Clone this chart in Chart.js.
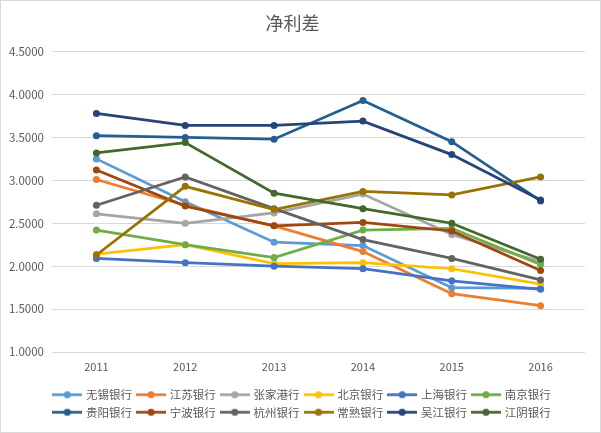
<!DOCTYPE html>
<html>
<head>
<meta charset="utf-8">
<script src="https://cdn.jsdelivr.net/npm/chart.js@4/dist/chart.umd.min.js"></script>
<style>
  html, body { margin: 0; padding: 0; background: #ffffff; }
  #wrap { position: relative; width: 601px; height: 433px; }
  #wrap canvas { position: absolute; left: 0; top: 0; }
  #frame { position: absolute; left: 0; top: 0; width: 599px; height: 431px; border: 1px solid #d9d9d9; pointer-events: none; }
</style>
</head>
<body>
<div id="wrap">
  <canvas id="c" width="601" height="433"></canvas>
  <div id="frame"></div>
</div>
<script>
const years = ['2011', '2012', '2013', '2014', '2015', '2016'];
const yTicks = [1.0, 1.5, 2.0, 2.5, 3.0, 3.5, 4.0, 4.5];

const bankNames = ['无锡银行', '江苏银行', '张家港行', '北京银行', '上海银行', '南京银行',
                   '贵阳银行', '宁波银行', '杭州银行', '常熟银行', '吴江银行', '江阴银行'];

const wuxi      = [3.25, 2.75, 2.28, 2.24, 1.75, 1.74];
const jiangsu   = [3.01, 2.71, 2.47, 2.17, 1.68, 1.54];
const zhangjiagang = [2.61, 2.50, 2.62, 2.84, 2.37, 2.05];
const beijing   = [2.14, 2.25, 2.03, 2.04, 1.97, 1.79];
const shanghai  = [2.09, 2.04, 2.00, 1.97, 1.83, 1.73];
const nanjing   = [2.42, 2.25, 2.10, 2.42, 2.44, 2.02];
const guiyang   = [3.52, 3.50, 3.48, 3.93, 3.45, 2.76];
const ningbo    = [3.12, 2.70, 2.47, 2.51, 2.41, 1.95];
const hangzhou  = [2.71, 3.04, 2.67, 2.31, 2.09, 1.84];
const changshu  = [2.13, 2.93, 2.66, 2.87, 2.83, 3.04];
const wujiang   = [3.78, 3.64, 3.64, 3.69, 3.30, 2.77];
const jiangyin  = [3.32, 3.44, 2.85, 2.67, 2.50, 2.08];

const seriesValues = [wuxi, jiangsu, zhangjiagang, beijing, shanghai, nanjing,
                      guiyang, ningbo, hangzhou, changshu, wujiang, jiangyin];

const colors = ['#5B9BD5', '#ED7D31', '#A5A5A5', '#FFC000', '#4472C4', '#70AD47',
                '#255E91', '#9E480E', '#636363', '#997300', '#264478', '#43682B'];

const FONT = "'Noto Sans CJK SC', 'Noto Sans', sans-serif";
const TEXT = '#595959';

function legendIcon(color) {
  const cv = document.createElement('canvas');
  cv.width = 30; cv.height = 9;
  const g = cv.getContext('2d');
  g.strokeStyle = color; g.lineWidth = 2.75;
  g.beginPath(); g.moveTo(0, 4.5); g.lineTo(30, 4.5); g.stroke();
  g.fillStyle = color;
  g.beginPath(); g.arc(15, 4.5, 3.6, 0, Math.PI * 2); g.fill();
  return cv;
}

const datasets = seriesValues.map((vals, i) => ({
  label: bankNames[i],
  data: vals,
  borderColor: colors[i],
  backgroundColor: colors[i],
  pointBackgroundColor: colors[i],
  pointBorderColor: colors[i],
  borderWidth: 2.75,
  pointRadius: 3.5,
  pointBorderWidth: 0,
  tension: 0,
  fill: false,
  order: -i,
  icon: legendIcon(colors[i])
}));

const legendShift = {
  id: 'legendShift',
  afterLayout(chart) {
    if (chart.legend) { chart.legend.left += 20; }
  }
};

new Chart(document.getElementById('c'), {
  type: 'line',
  data: { labels: years, datasets: datasets },
  plugins: [legendShift],
  options: {
    responsive: false,
    animation: false,
    layout: { padding: { left: 0, right: 16, top: 0, bottom: 5 } },
    plugins: {
      title: {
        display: true,
        text: '净利差',
        color: TEXT,
        font: { family: FONT, size: 18, weight: 'normal' },
        padding: { top: 12, bottom: 18 }
      },
      legend: {
        position: 'bottom',
        labels: {
          usePointStyle: true,
          pointStyleWidth: 26,
          padding: 6,
          color: TEXT,
          font: { family: FONT, size: 11.5 },
          sort: (a, b) => a.datasetIndex - b.datasetIndex,
          generateLabels: (chart) => {
            const items = Chart.defaults.plugins.legend.labels.generateLabels(chart);
            items.forEach(it => {
              it.pointStyle = chart.data.datasets[it.datasetIndex].icon;
              it.fontColor = TEXT;
            });
            return items;
          }
        }
      },
      tooltip: { enabled: false }
    },
    scales: {
      x: {
        offset: true,
        grid: { display: false, drawTicks: false },
        border: { display: false },
        ticks: { color: TEXT, font: { family: FONT, size: 11 }, padding: 8 },
        afterFit: (s) => { s.height = 31; }
      },
      y: {
        min: yTicks[0],
        max: yTicks[yTicks.length - 1],
        afterBuildTicks: (s) => { s.ticks = yTicks.map(v => ({ value: v })); },
        grid: { color: '#d9d9d9', lineWidth: 1, drawTicks: false },
        border: { display: false },
        ticks: {
          color: TEXT,
          font: { family: FONT, size: 11.5 },
          padding: 8,
          callback: (v) => Number(v).toFixed(4)
        },
        afterFit: (s) => { s.width = 52; }
      }
    }
  }
});
</script>
</body>
</html>
